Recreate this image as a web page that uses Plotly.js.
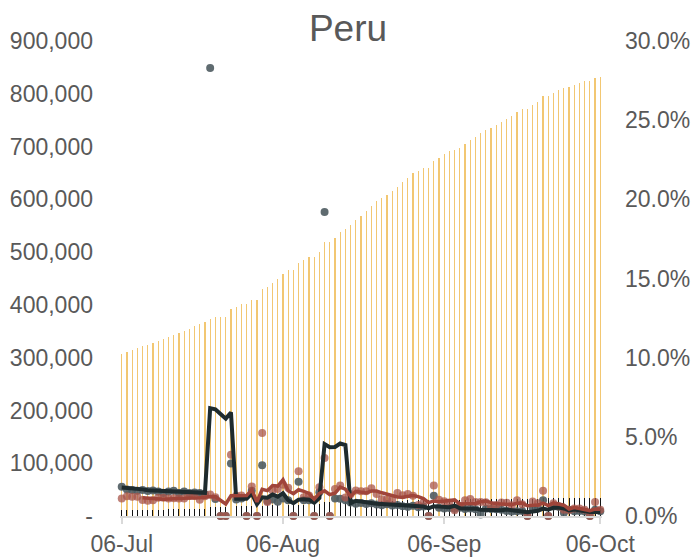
<!DOCTYPE html>
<html>
<head>
<meta charset="utf-8">
<script src="https://cdn.plot.ly/plotly-3.0.1.min.js"></script>
<style>html,body{margin:0;padding:0;background:#fff;}#chart{width:696px;height:559px;}</style>
</head>
<body>
<div id="chart"></div>
<script>
const dates = [
'2020-07-06','2020-07-07','2020-07-08','2020-07-09','2020-07-10','2020-07-11','2020-07-12','2020-07-13','2020-07-14','2020-07-15',
'2020-07-16','2020-07-17','2020-07-18','2020-07-19','2020-07-20','2020-07-21','2020-07-22','2020-07-23','2020-07-24','2020-07-25',
'2020-07-26','2020-07-27','2020-07-28','2020-07-29','2020-07-30','2020-07-31','2020-08-01','2020-08-02','2020-08-03','2020-08-04',
'2020-08-05','2020-08-06','2020-08-07','2020-08-08','2020-08-09','2020-08-10','2020-08-11','2020-08-12','2020-08-13','2020-08-14',
'2020-08-15','2020-08-16','2020-08-17','2020-08-18','2020-08-19','2020-08-20','2020-08-21','2020-08-22','2020-08-23','2020-08-24',
'2020-08-25','2020-08-26','2020-08-27','2020-08-28','2020-08-29','2020-08-30','2020-08-31','2020-09-01','2020-09-02','2020-09-03',
'2020-09-04','2020-09-05','2020-09-06','2020-09-07','2020-09-08','2020-09-09','2020-09-10','2020-09-11','2020-09-12','2020-09-13',
'2020-09-14','2020-09-15','2020-09-16','2020-09-17','2020-09-18','2020-09-19','2020-09-20','2020-09-21','2020-09-22','2020-09-23',
'2020-09-24','2020-09-25','2020-09-26','2020-09-27','2020-09-28','2020-09-29','2020-09-30','2020-10-01','2020-10-02','2020-10-03',
'2020-10-04','2020-10-05','2020-10-06'];

// cumulative cases (left axis)
const cumulativeCases = [
306900,310700,314500,318300,321500,324600,327800,331600,335400,339100,
342900,346700,350500,354900,359400,363100,367600,372600,377000,377000,
377000,391600,396600,401700,401700,409200,409200,430700,434500,441500,
449000,457900,466100,466100,479300,485000,491300,491300,500200,518500,
518500,527300,537500,543800,551300,560200,569000,577900,588000,596200,
602500,608800,615100,624000,632200,641000,649200,653700,659300,659300,
672000,678900,685200,690900,693400,697900,704800,712400,718700,725000,
731300,735100,740200,746500,752800,757900,765400,771100,771100,778100,
784400,795700,795700,802100,807100,810300,813400,817200,821000,824200,
824200,829200,832400];

// cumulative deaths (left axis)
const cumulativeDeaths = [
10772,10952,11133,11314,11500,11682,11870,12054,12229,12417,
12615,12799,12998,13187,13384,13579,13767,17654,17843,17843,
17843,18418,18612,18816,18816,19117,19117,19729,19926,20125,
20327,20530,20735,20735,21185,21397,21611,21611,21935,26146,
26146,26434,26725,26992,27208,27426,27645,27866,28089,28286,
28484,28683,28884,29086,29261,29437,29614,29792,29971,29971,
30355,30507,30660,30813,30967,31122,31262,31403,31544,31575,
31717,31860,32003,32147,32243,32340,32437,32534,32534,32697,
32860,33189,33189,33388,33588,33655,33790,33891,33993,34095,
34095,34231,34334];

// daily growth of cases, % (right axis)
const caseGrowth = [
1.10,1.24,1.22,1.21,1.01,0.96,0.99,1.16,1.15,1.10,
1.12,1.11,1.10,1.26,1.27,1.03,1.24,1.36,1.18,0,
0,3.87,1.28,1.29,0,1.87,0,5.25,0.88,1.61,
1.70,1.98,1.79,0,2.83,1.19,1.30,0,1.81,3.66,
0,1.70,1.93,1.17,1.38,1.61,1.57,1.56,1.75,1.39,
1.06,1.05,1.03,1.45,1.31,1.39,1.28,0.69,0.86,0,
1.93,1.03,0.93,0.83,0.36,0.65,0.99,1.08,0.88,0.88,
0.87,0.52,0.69,0.85,0.84,0.68,0.99,0.74,0,0.91,
0.81,1.60,0,0.80,0.62,0.40,0.38,0.47,0.47,0.39,
0,0.88,0.39];

// 5-day average of case growth, %
const caseGrowthAvg = [
null,null,null,null,1.156,1.128,1.078,1.066,1.054,1.072,
1.104,1.128,1.116,1.138,1.172,1.154,1.18,1.232,1.216,0.962,
0.756,1.282,1.266,1.288,1.288,1.662,0.888,1.682,1.60,1.922,
1.888,2.284,1.592,1.416,1.66,1.558,1.422,1.064,1.426,1.592,
1.354,1.434,1.82,1.692,1.236,1.558,1.532,1.458,1.574,1.576,
1.466,1.362,1.256,1.196,1.18,1.246,1.292,1.224,1.106,0.844,
0.952,0.902,0.95,0.944,1.016,0.76,0.752,0.782,0.792,0.896,
0.94,0.846,0.768,0.762,0.754,0.716,0.81,0.82,0.65,0.664,
0.69,0.812,0.664,0.824,0.766,0.684,0.44,0.534,0.468,0.422,
0.342,0.442,0.426];

// daily growth of deaths, % (right axis)
const deathGrowth = [
1.85,1.67,1.65,1.60,1.64,1.58,1.61,1.55,1.45,1.54,
1.59,1.46,1.55,1.45,1.48,1.46,1.38,28.3,1.07,0,
0,3.32,1.05,1.10,0,1.60,0,3.20,0.95,1.05,
0.90,1.10,1.00,0,2.17,1.00,1.00,0,1.50,19.2,
0,1.10,1.09,1.00,0.85,0.78,0.82,0.76,0.80,0.72,
0.68,0.74,0.66,0.70,0.62,0.58,0.64,0.56,0.60,0,
1.28,0.52,0.48,0.50,0.46,0.52,0.44,0.47,0.43,0.10,
0.46,0.44,0.42,0.40,0.32,0.28,0.30,0.31,0,0.50,
0.52,1.00,0,0.60,0.58,0.20,0.40,0.30,0.32,0.28,
0,0.40,0.30];

// 5-day average of death growth, %
const deathGrowthAvg = [
1.80,1.78,1.75,1.72,1.682,1.628,1.616,1.596,1.566,1.546,
1.548,1.518,1.518,1.518,1.506,1.48,1.464,6.814,6.738,6.442,
6.15,6.538,1.088,1.094,1.094,1.414,0.75,1.18,1.15,1.36,
1.22,1.44,1.00,0.81,1.034,1.054,1.034,0.834,1.134,4.54,
4.34,4.36,4.578,4.478,0.808,0.964,0.908,0.842,0.802,0.776,
0.756,0.74,0.72,0.70,0.68,0.66,0.64,0.62,0.60,0.476,
0.616,0.592,0.576,0.556,0.648,0.496,0.48,0.478,0.464,0.392,
0.38,0.38,0.37,0.364,0.408,0.372,0.344,0.322,0.242,0.278,
0.326,0.466,0.404,0.524,0.54,0.476,0.356,0.416,0.36,0.30,
0.26,0.26,0.26];

const xTickVals = ['2020-07-06','2020-08-06','2020-09-06','2020-10-06'];
const leftTickVals = [0,100000,200000,300000,400000,500000,600000,700000,800000,900000];
const leftTickText = ['-','100,000','200,000','300,000','400,000','500,000','600,000','700,000','800,000','900,000'];
const rightTickVals = [0,5,10,15,20,25,30];
const rightTickText = ['0.0%','5.0%','10.0%','15.0%','20.0%','25.0%','30.0%'];

const DAY = 86400000;
const txt = '#595959';
const fontFam = '"Liberation Sans", Arial, sans-serif';

const traces = [
  {type:'bar', x:dates, y:cumulativeCases, width:0.24*DAY, marker:{color:'#F2C772', line:{width:0}}, yaxis:'y', hoverinfo:'skip'},
  {type:'bar', x:dates, y:cumulativeDeaths, width:0.18*DAY, marker:{color:'#151515', line:{width:0}}, yaxis:'y', hoverinfo:'skip'},
  {type:'scatter', mode:'markers', x:dates, y:deathGrowth, yaxis:'y2', cliponaxis:false,
   marker:{color:'#4E5B60', size:8, opacity:0.9}},
  {type:'scatter', mode:'markers', x:dates, y:caseGrowth, yaxis:'y2', cliponaxis:false,
   marker:{color:'#A8564B', size:8, opacity:0.75}},
  {type:'scatter', mode:'lines', x:dates, y:deathGrowthAvg, yaxis:'y2', cliponaxis:false,
   line:{color:'#1E2B2E', width:4}},
  {type:'scatter', mode:'lines', x:dates, y:caseGrowthAvg, yaxis:'y2', cliponaxis:false,
   line:{color:'#A0453A', width:3.5}}
];

const layout = {
  width:696, height:559,
  margin:{l:120, r:94, t:41, b:43},
  paper_bgcolor:'#ffffff', plot_bgcolor:'#ffffff',
  showlegend:false, barmode:'overlay', bargap:0,
  font:{family:fontFam, size:23, color:txt},
  title:{text:'Peru', font:{family:fontFam, size:37, color:txt}, x:0.5, xref:'container', xanchor:'center', y:1-28/559, yref:'container', yanchor:'middle'},
  xaxis:{type:'date', range:['2020-07-05 16:00','2020-10-06 08:00'], tickvals:xTickVals, tickformat:'%d-%b',
    showgrid:false, zeroline:false, showline:true, linecolor:'#D9D9D9', linewidth:2,
    ticks:'outside', ticklen:6, tickwidth:2, tickcolor:'#D9D9D9', tickfont:{size:23, color:txt}},
  yaxis:{range:[0,900000], tickvals:leftTickVals, ticktext:leftTickText, showgrid:false, zeroline:false,
    showline:false, ticks:'', ticklabelstandoff:26, tickfont:{size:23, color:txt}},
  yaxis2:{range:[0,30], overlaying:'y', side:'right', tickvals:rightTickVals, ticktext:rightTickText,
    showgrid:false, zeroline:false, showline:false, ticks:'', ticklabelstandoff:22, tickfont:{size:23, color:txt}}
};

Plotly.newPlot('chart', traces, layout, {displayModeBar:false, staticPlot:true});
</script>
</body>
</html>
